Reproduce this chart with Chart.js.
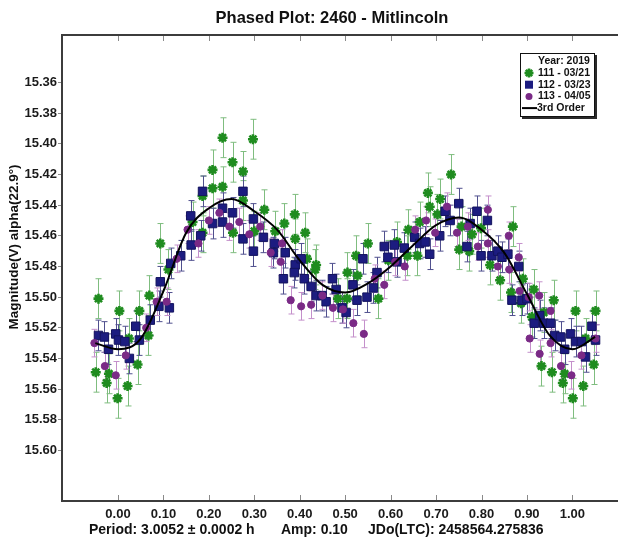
<!DOCTYPE html>
<html>
<head>
<meta charset="utf-8">
<script src="https://cdn.jsdelivr.net/npm/chart.js@4/dist/chart.umd.min.js"></script>
<style>
  html, body { margin: 0; padding: 0; background: #fff; }
  #wrap { width: 618px; height: 537px; overflow: hidden; }
</style>
</head>
<body>
<div id="wrap"><canvas id="lc" width="618" height="537"></canvas></div>
<script>
// session 111 - 03/21
const phase111 = [-0.043, -0.049, -0.025, -0.020, -0.001, 0.003, 0.021, 0.024, 0.043, 0.047,
  0.067, 0.069, 0.093, 0.111, 0.164, 0.186, 0.186, 0.208, 0.208, 0.230,
  0.230, 0.252, 0.253, 0.275, 0.275, 0.297, 0.300, 0.322, 0.346, 0.366,
  0.389, 0.390, 0.412, 0.416, 0.436, 0.434, 0.484, 0.504, 0.505, 0.524,
  0.527, 0.550, 0.573, 0.595, 0.614, 0.637, 0.639, 0.659, 0.664, 0.682,
  0.686, 0.703, 0.709, 0.733, 0.756, 0.751, 0.773, 0.779, 0.799, 0.819,
  0.841, 0.865, 0.869, 0.887, 0.891, 0.911, 0.915, 0.937, 0.959, 0.932,
  0.955, 0.983, 0.979, 1.001, 1.007, 1.024, 1.029, 1.047, 1.051];
const mag111 = [15.501, 15.549, 15.556, 15.550, 15.566, 15.509, 15.558, 15.527, 15.544, 15.509,
  15.525, 15.499, 15.465, 15.482, 15.451, 15.434, 15.458, 15.417, 15.429, 15.396,
  15.428, 15.412, 15.458, 15.418, 15.437, 15.397, 15.457, 15.443, 15.457, 15.452,
  15.446, 15.462, 15.458, 15.475, 15.479, 15.482, 15.501, 15.501, 15.484, 15.473,
  15.486, 15.465, 15.501, 15.476, 15.464, 15.473, 15.456, 15.473, 15.451, 15.432,
  15.441, 15.446, 15.436, 15.420, 15.454, 15.469, 15.470, 15.459, 15.455, 15.479,
  15.489, 15.497, 15.454, 15.504, 15.488, 15.513, 15.495, 15.510, 15.502, 15.545,
  15.549, 15.550, 15.556, 15.566, 15.509, 15.558, 15.527, 15.544, 15.509];

// session 112 - 03/23
const phase112 = [-0.043, -0.030, -0.021, -0.005, 0.001, 0.015, 0.025, 0.039, 0.047, 0.071,
  0.090, 0.093, 0.113, 0.116, 0.138, 0.161, 0.160, 0.182, 0.186, 0.208,
  0.230, 0.230, 0.252, 0.275, 0.275, 0.298, 0.298, 0.320, 0.344, 0.342,
  0.368, 0.364, 0.390, 0.388, 0.403, 0.410, 0.425, 0.436, 0.449, 0.458,
  0.472, 0.480, 0.493, 0.502, 0.517, 0.526, 0.539, 0.548, 0.562, 0.570,
  0.586, 0.594, 0.608, 0.614, 0.630, 0.653, 0.664, 0.676, 0.686, 0.708,
  0.720, 0.731, 0.750, 0.768, 0.775, 0.790, 0.799, 0.813, 0.823, 0.836,
  0.845, 0.858, 0.882, 0.867, 0.889, 0.900, 0.916, 0.928, 0.937, 0.952,
  0.961, 0.974, 0.983, 0.996, 1.007, 1.020, 1.029, 1.043, 1.051];
const mag112 = [15.525, 15.526, 15.534, 15.524, 15.528, 15.529, 15.540, 15.519, 15.528, 15.515,
  15.506, 15.490, 15.507, 15.478, 15.473, 15.466, 15.447, 15.460, 15.431, 15.452,
  15.442, 15.451, 15.445, 15.431, 15.462, 15.449, 15.470, 15.461, 15.465, 15.471,
  15.471, 15.488, 15.479, 15.484, 15.475, 15.488, 15.493, 15.499, 15.499, 15.503,
  15.488, 15.495, 15.507, 15.510, 15.492, 15.502, 15.475, 15.500, 15.494, 15.484,
  15.467, 15.474, 15.466, 15.477, 15.468, 15.461, 15.465, 15.464, 15.472, 15.460,
  15.444, 15.450, 15.439, 15.467, 15.452, 15.444, 15.473, 15.450, 15.473, 15.470,
  15.474, 15.472, 15.480, 15.502, 15.502, 15.501, 15.517, 15.512, 15.517, 15.517,
  15.525, 15.526, 15.534, 15.524, 15.529, 15.529, 15.539, 15.519, 15.528];

// session 113 - 04/05
const phase113 = [-0.052, -0.029, -0.005, 0.017, 0.062, 0.085, 0.107, 0.129, 0.153, 0.177,
  0.200, 0.223, 0.245, 0.267, 0.289, 0.313, 0.336, 0.358, 0.361, 0.380,
  0.403, 0.425, 0.450, 0.473, 0.495, 0.518, 0.541, 0.565, 0.586, 0.610,
  0.631, 0.654, 0.678, 0.698, 0.724, 0.746, 0.770, 0.792, 0.814, 0.814,
  0.836, 0.860, 0.861, 0.882, 0.884, 0.904, 0.906, 0.927, 0.928, 0.952,
  0.952, 0.975, 0.998, 1.020, 1.051];
const mag113 = [15.530, 15.545, 15.551, 15.538, 15.520, 15.503, 15.503, 15.475, 15.456, 15.465,
  15.450, 15.445, 15.454, 15.451, 15.459, 15.454, 15.471, 15.477, 15.465, 15.502,
  15.506, 15.505, 15.499, 15.507, 15.508, 15.517, 15.524, 15.488, 15.492, 15.477,
  15.480, 15.456, 15.450, 15.458, 15.441, 15.458, 15.454, 15.467, 15.443, 15.465,
  15.480, 15.460, 15.482, 15.474, 15.496, 15.500, 15.527, 15.499, 15.537, 15.509,
  15.530, 15.545, 15.551, 15.538, 15.527];

// 3rd order fit
const fitPhase = [-0.05, 0.00, 0.05, 0.10, 0.15, 0.20, 0.25, 0.30, 0.35, 0.40, 0.45, 0.50,
  0.55, 0.60, 0.65, 0.70, 0.75, 0.80, 0.85, 0.90, 0.95, 1.00, 1.05];
const fitMag = [15.530, 15.534, 15.527, 15.496, 15.458, 15.442, 15.436, 15.444, 15.456, 15.476,
  15.492, 15.497, 15.491, 15.480, 15.466, 15.453, 15.448, 15.456, 15.471, 15.498, 15.525, 15.534, 15.526];

const err111 = 0.013;
const err112 = 0.010;
const err113 = 0.009;

const xTicks = [0.00, 0.10, 0.20, 0.30, 0.40, 0.50, 0.60, 0.70, 0.80, 0.90, 1.00];
const yTicks = [15.36, 15.38, 15.40, 15.42, 15.44, 15.46, 15.48, 15.50, 15.52, 15.54, 15.56, 15.58, 15.60];

const FONT = '"Liberation Sans", Arial, Helvetica, sans-serif';
Chart.defaults.font.family = FONT;
Chart.defaults.color = '#1a1a1a';

function pts(xs, ys) {
  return xs.map((v, i) => ({ x: v, y: ys[i] }));
}

// vertical error bars with caps, drawn under the markers
const errorBars = {
  id: 'errorBars',
  beforeDatasetsDraw(chart) {
    const { ctx, chartArea: a, scales: { x, y } } = chart;
    ctx.save();
    ctx.beginPath();
    ctx.rect(a.left, a.top, a.width, a.height);
    ctx.clip();
    ctx.lineWidth = 1;
    chart.data.datasets.forEach((ds) => {
      if (!ds.errorBar) return;
      ctx.strokeStyle = ds.errorColor;
      ds.data.forEach((p) => {
        const px = Math.round(x.getPixelForValue(p.x)) + 0.5;
        const t = y.getPixelForValue(p.y - ds.errorBar);
        const b = y.getPixelForValue(p.y + ds.errorBar);
        ctx.beginPath();
        ctx.moveTo(px, t); ctx.lineTo(px, b);
        ctx.moveTo(px - 3, t); ctx.lineTo(px + 3, t);
        ctx.moveTo(px - 3, b); ctx.lineTo(px + 3, b);
        ctx.stroke();
      });
    });
    ctx.restore();
  }
};

// top frame line, axis runs out to the canvas edge, inward phase ticks
const frame = {
  id: 'frame',
  afterDraw(chart) {
    const { ctx, chartArea: a, scales: { x } } = chart;
    ctx.save();
    ctx.strokeStyle = '#3c3c3c';
    ctx.lineWidth = 2;
    ctx.beginPath();
    ctx.moveTo(a.left - 1, a.top);
    ctx.lineTo(chart.width, a.top);
    ctx.moveTo(a.right - 1, a.bottom);
    ctx.lineTo(chart.width, a.bottom);
    ctx.stroke();
    ctx.strokeStyle = '#8a8a8a';
    ctx.lineWidth = 1;
    xTicks.forEach((v) => {
      const px = Math.round(x.getPixelForValue(v)) + 0.5;
      ctx.beginPath();
      ctx.moveTo(px, a.bottom - 1); ctx.lineTo(px, a.bottom - 6);
      ctx.moveTo(px, a.top + 1); ctx.lineTo(px, a.top + 6);
      ctx.stroke();
    });
    ctx.restore();
  }
};

// boxed legend with a drop shadow
const boxLegend = {
  id: 'boxLegend',
  afterDraw(chart) {
    const { ctx } = chart;
    const bx = 520, by = 53, bw = 75, bh = 64;
    ctx.save();
    ctx.fillStyle = '#2a2a2a';
    ctx.fillRect(bx + 2, by + 2, bw, bh);
    ctx.fillStyle = '#fff';
    ctx.fillRect(bx, by, bw, bh);
    ctx.strokeStyle = '#111';
    ctx.lineWidth = 1;
    ctx.strokeRect(bx + 0.5, by + 0.5, bw - 1, bh - 1);

    ctx.font = 'bold 10.5px ' + FONT;
    ctx.fillStyle = '#111';
    ctx.textBaseline = 'middle';
    ctx.textAlign = 'left';
    ctx.fillText('Year: 2019', 538, by + 8);

    const rows = chart.data.datasets.filter((d) => d.label);
    rows.forEach((ds, i) => {
      const cy = by + 20 + i * 11.7;
      const mx = 529;
      if (ds.type === 'line') {
        ctx.strokeStyle = ds.borderColor;
        ctx.lineWidth = 2;
        ctx.beginPath();
        ctx.moveTo(522, cy); ctx.lineTo(537, cy);
        ctx.stroke();
      } else {
        ctx.fillStyle = ds.backgroundColor;
        ctx.strokeStyle = ds.borderColor;
        ctx.lineWidth = ds.borderWidth;
        ctx.beginPath();
        if (ds.pointStyle === 'rect') {
          ctx.rect(mx - 4, cy - 4, 8, 8);
          ctx.fill();
        } else if (ds.pointStyle === 'circle') {
          ctx.arc(mx, cy, 3.5, 0, Math.PI * 2);
          ctx.fill();
        } else {
          for (let k = 0; k < 4; k++) {
            const ang = k * Math.PI / 4;
            ctx.moveTo(mx - 4.5 * Math.cos(ang), cy - 4.5 * Math.sin(ang));
            ctx.lineTo(mx + 4.5 * Math.cos(ang), cy + 4.5 * Math.sin(ang));
          }
          ctx.stroke();
        }
      }
      ctx.fillStyle = '#111';
      ctx.fillText(ds.label, ds.type === 'line' ? 537 : 538, cy);
    });
    ctx.restore();
  }
};

// heading, axis caption and the period line under the axis
const captions = {
  id: 'captions',
  afterDraw(chart) {
    const { ctx } = chart;
    ctx.save();
    ctx.fillStyle = '#111';
    ctx.textBaseline = 'middle';
    ctx.textAlign = 'center';
    ctx.font = 'bold 16.5px ' + FONT;
    ctx.fillText('Phased Plot: 2460 - Mitlincoln', 332, 18);

    ctx.font = 'bold 13.5px ' + FONT;
    ctx.translate(14, 247);
    ctx.rotate(-Math.PI / 2);
    ctx.fillText('Magnitude(V) alpha(22.9\u00b0)', 0, 0);
    ctx.setTransform(1, 0, 0, 1, 0, 0);

    ctx.textAlign = 'left';
    ctx.font = 'bold 14px ' + FONT;
    ctx.fillText('Period: 3.0052 \u00b1 0.0002 h', 89, 530);
    ctx.fillText('Amp: 0.10', 281, 530);
    ctx.fillText('JDo(LTC): 2458564.275836', 368, 530);
    ctx.restore();
  }
};

new Chart(document.getElementById('lc'), {
  type: 'scatter',
  data: {
    datasets: [
      {
        type: 'line',
        label: '3rd Order',
        data: pts(fitPhase, fitMag),
        borderColor: '#000',
        borderWidth: 2,
        pointRadius: 0,
        cubicInterpolationMode: 'monotone',
        fill: false,
        order: 0
      },
      {
        label: '113 - 04/05',
        data: pts(phase113, mag113),
        pointStyle: 'circle',
        pointRadius: 3.6,
        backgroundColor: '#7a2a86',
        borderColor: '#7a2a86',
        borderWidth: 1,
        errorBar: err113,
        errorColor: '#c490cb',
        order: 1
      },
      {
        label: '112 - 03/23',
        data: pts(phase112, mag112),
        pointStyle: 'rect',
        pointRadius: 6,
        backgroundColor: '#1c1c80',
        borderColor: '#14145e',
        borderWidth: 1,
        errorBar: err112,
        errorColor: '#50508e',
        order: 2
      },
      {
        label: '111 - 03/21',
        data: pts(phase111, mag111),
        pointStyle: 'star',
        pointRadius: 5,
        backgroundColor: '#1f8c1f',
        borderColor: '#1f8c1f',
        borderWidth: 2.6,
        errorBar: err111,
        errorColor: '#7fbd7f',
        order: 3
      }
    ].reverse()
  },
  options: {
    responsive: false,
    animation: false,
    devicePixelRatio: 1,
    layout: { padding: { top: 35, left: 0, right: 0, bottom: 0 } },
    plugins: {
      legend: { display: false },
      title: { display: false },
      tooltip: { enabled: false }
    },
    scales: {
      x: {
        type: 'linear',
        min: -0.1233,
        max: 1.0837,
        afterFit: (s) => { s.height = 36; },
        afterBuildTicks: (s) => { s.ticks = xTicks.map((v) => ({ value: v })); },
        grid: { display: true, drawOnChartArea: false, drawTicks: false },
        border: { display: true, color: '#3c3c3c', width: 2 },
        ticks: {
          padding: 6,
          maxRotation: 0,
          font: { size: 13, weight: 'bold' },
          callback: (v) => Number(v).toFixed(2)
        }
      },
      y: {
        type: 'linear',
        reverse: true,
        min: 15.329,
        max: 15.633,
        afterFit: (s) => { s.width = 62; },
        afterBuildTicks: (s) => { s.ticks = yTicks.map((v) => ({ value: v })); },
        grid: { display: true, drawOnChartArea: false, drawTicks: true, tickLength: 4, color: '#8a8a8a' },
        border: { display: true, color: '#3c3c3c', width: 2 },
        ticks: {
          padding: 1,
          font: { size: 13, weight: 'bold' },
          callback: (v) => Number(v).toFixed(2)
        }
      }
    }
  },
  plugins: [errorBars, frame, boxLegend, captions]
});
</script>
</body>
</html>
